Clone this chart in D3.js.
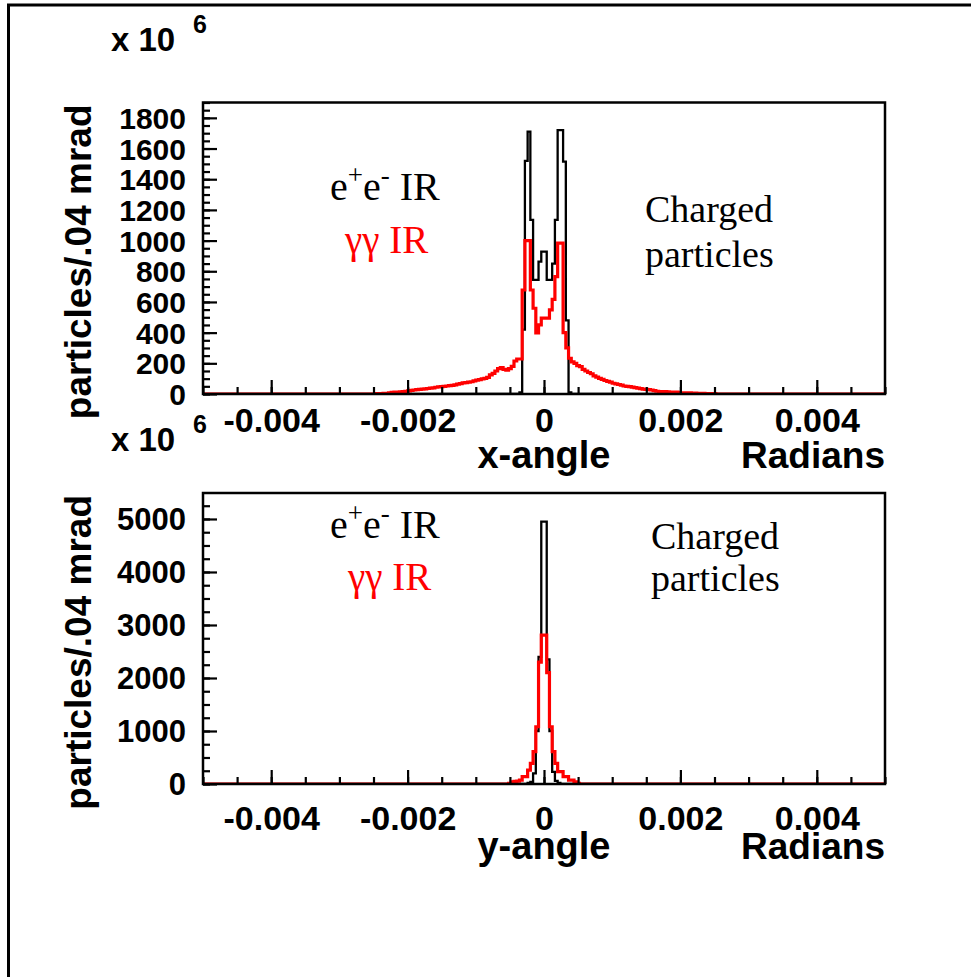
<!DOCTYPE html>
<html>
<head>
<meta charset="utf-8">
<script src="https://cdn.jsdelivr.net/npm/d3@7/dist/d3.min.js"></script>
<style>
  html, body { margin: 0; padding: 0; background: #fff; }
  svg { display: block; }
</style>
</head>
<body>
<div id="chart"></div>
<script>
// ---------------- DATA ----------------
// histogram binning: .04 mrad bins over [-0.005, 0.005] rad
const binWidth = 0.00004;
const xDomain = [-0.005, 0.005];

// x axis tick values and labels (shared by both panels)
const xTickValues = [-0.004, -0.002, 0, 0.002, 0.004];
const xTickLabels = ["-0.004", "-0.002", "0", "0.002", "0.004"];

// top panel (x-angle), values in units of 10^6 particles per bin
const topYTicks = [0, 200, 400, 600, 800, 1000, 1200, 1400, 1600, 1800];
// bins indexed by k, where bin k spans [k*binWidth, (k+1)*binWidth]
const topBlackStart = -9;
const topBlack = [10, 420, 1520, 1710, 1135, 744, 744, 863, 928, 928, 744, 744, 850, 1135, 1720, 1720, 1515, 480, 10];
const topRedStart = -62;
const topRed = [
  2, 3, 3, 4, 5, 8, 10, 12, 13, 14, 15, 17, 20, 24, 26, 28, 30, 32, 34, 36,
  38, 40, 44, 46, 48, 50, 52, 54, 56, 60, 64, 68, 72, 74, 78, 80, 86, 90, 94, 98,
  102, 108, 125, 135, 150, 165, 172, 160, 155, 165, 180,
  215, 228, 228, 678, 1000, 1000, 678, 559, 398, 450, 494, 494, 494, 548, 617, 765, 983, 983,
  400, 300, 233, 210, 200, 185, 178, 160, 150, 140, 132, 118, 110, 102, 95, 88, 82, 78,
  70, 66, 62, 58, 52, 50, 48, 45, 42, 38, 35, 32, 30, 28, 26, 22, 18, 16, 15, 15,
  14, 13, 12, 12, 10, 8, 8, 7, 7, 6, 6, 5, 5, 4, 3, 3, 2, 2
];

// bottom panel (y-angle)
const botYTicks = [0, 1000, 2000, 3000, 4000, 5000];
const botBlackStart = -6;
const botBlack = [20, 40, 200, 1000, 2400, 4950, 4950, 2350, 1000, 230, 60, 20];
const botRedStart = -13;
const botRed = [10, 40, 50, 55, 75, 138, 140, 260, 390, 610, 1080, 2300, 2810, 2810, 2100, 1080, 610, 390, 233, 233, 138, 138, 75, 75, 40, 13];

// ---------------- DRAW ----------------
const W = 971, H = 977;
const svg = d3.select("#chart").append("svg").attr("width", W).attr("height", H);
svg.append("rect").attr("width", W).attr("height", H).attr("fill", "#fff");

// outer page frame (top and left edges)
svg.append("path").attr("d", "M8.5,977V5H971").attr("fill", "none").attr("stroke", "#000").attr("stroke-width", 3);

const SANS = "'Liberation Sans', Arial, Helvetica, sans-serif";
const SERIF = "'Liberation Serif', 'Times New Roman', serif";

function panel(cfg) {
  const x = d3.scaleLinear().domain(xDomain).range([cfg.left, cfg.right]);
  const y = d3.scaleLinear().domain([0, cfg.yMax]).range([cfg.bottom, cfg.top]);
  const g = svg.append("g");

  const clipId = "clip" + cfg.id;
  svg.append("clipPath").attr("id", clipId).append("rect")
    .attr("x", cfg.left).attr("y", cfg.top - 2)
    .attr("width", cfg.right - cfg.left).attr("height", cfg.bottom - cfg.top + 3);

  // histogram helper
  const nBins = Math.round((xDomain[1] - xDomain[0]) / binWidth);
  function histPoints(start, vals) {
    const pts = [];
    for (let i = 0; i < nBins; i++) {
      const k = i - nBins / 2;
      const j = k - start;
      const v = (j >= 0 && j < vals.length) ? vals[j] : 0;
      pts.push([xDomain[0] + i * binWidth, v]);
    }
    pts.push([xDomain[1], pts[pts.length - 1][1]]);
    return pts;
  }
  const line = d3.line().x(d => x(d[0])).y(d => y(d[1])).curve(d3.curveStepAfter);

  const hg = g.append("g").attr("clip-path", `url(#${clipId})`);
  hg.append("path").attr("d", line(histPoints(cfg.blackStart, cfg.black)))
    .attr("fill", "none").attr("stroke", "#000").attr("stroke-width", 2.3);
  hg.append("path").attr("d", line(histPoints(cfg.redStart, cfg.red)))
    .attr("fill", "none").attr("stroke", "#ff0000").attr("stroke-width", 3.2);

  // x axis ticks (inward)
  const xMinor = d3.range(-10, 11).map(i => i * 0.0005);
  g.append("g").attr("transform", `translate(0,${cfg.bottom})`)
    .call(d3.axisBottom(x).tickValues(xMinor).tickSize(-7).tickFormat(""))
    .call(a => a.select(".domain").remove())
    .selectAll("line").attr("stroke-width", 2.2);
  const xa = g.append("g").attr("transform", `translate(0,${cfg.bottom})`)
    .call(d3.axisBottom(x).tickValues(xTickValues).tickSize(-14).tickFormat((d, i) => xTickLabels[i]))
    .call(a => a.select(".domain").remove());
  xa.selectAll("line").attr("stroke-width", 2.2);
  xa.selectAll("text").attr("y", cfg.xLabelBase - cfg.bottom).attr("dy", null)
    .attr("font-family", SANS).attr("font-weight", "bold").attr("font-size", 34).attr("fill", "#000");

  // y axis ticks (inward)
  const yMinor = d3.range(0, cfg.yMax + 1e-9, cfg.yMinorStep);
  g.append("g").attr("transform", `translate(${cfg.left},0)`)
    .call(d3.axisLeft(y).tickValues(yMinor).tickSize(-7).tickFormat(""))
    .call(a => a.select(".domain").remove())
    .selectAll("line").attr("stroke-width", 2.2);
  const ya = g.append("g").attr("transform", `translate(${cfg.left},0)`)
    .call(d3.axisLeft(y).tickValues(cfg.yTicks).tickSize(-14).tickFormat(d3.format("d")))
    .call(a => a.select(".domain").remove());
  ya.selectAll("line").attr("stroke-width", 2.2);
  ya.selectAll("text").attr("x", 186 - cfg.left).attr("dy", null).attr("y", 10.5)
    .attr("text-anchor", "end")
    .attr("font-family", SANS).attr("font-weight", "bold").attr("font-size", cfg.yLabelSize).attr("fill", "#000");

  // frame
  g.append("rect").attr("x", cfg.left).attr("y", cfg.top)
    .attr("width", cfg.right - cfg.left).attr("height", cfg.bottom - cfg.top)
    .attr("fill", "none").attr("stroke", "#000").attr("stroke-width", 2.5);

  // axis titles
  g.append("text").attr("x", (cfg.left + cfg.right) / 2).attr("y", cfg.titleBase)
    .attr("text-anchor", "middle").attr("font-family", SANS).attr("font-weight", "bold")
    .attr("font-size", 38).text(cfg.xTitle);
  g.append("text").attr("x", cfg.right).attr("y", cfg.titleBase)
    .attr("text-anchor", "end").attr("font-family", SANS).attr("font-weight", "bold")
    .attr("font-size", 37).text("Radians");
  g.append("text").attr("transform", `translate(91,${cfg.top + 2}) rotate(-90)`)
    .attr("text-anchor", "end").attr("font-family", SANS).attr("font-weight", "bold")
    .attr("font-size", 37).text("particles/.04 mrad");

  // exponent label
  const ex = g.append("text").attr("x", 111).attr("y", cfg.expBase)
    .attr("font-family", SANS).attr("font-weight", "bold").attr("font-size", 33);
  ex.append("tspan").text("x 10");
  ex.append("tspan").attr("x", 193).attr("dy", -18).attr("font-size", 25).text("6");

  // legend-like annotations
  const t1 = g.append("text").attr("x", 330).attr("y", cfg.eeBase)
    .attr("font-family", SERIF).attr("font-size", 40).attr("fill", "#000");
  t1.append("tspan").text("e");
  t1.append("tspan").attr("dy", -16).attr("font-size", 27).text("+");
  t1.append("tspan").attr("dy", 16).text("e");
  t1.append("tspan").attr("dy", -16).attr("font-size", 27).text("-");
  t1.append("tspan").attr("dy", 16).text(" IR");
  g.append("text").attr("x", cfg.ggX).attr("y", cfg.ggBase)
    .attr("font-family", SERIF).attr("font-size", 39).attr("fill", "#ff0000").text("γγ IR");
  g.append("text").attr("x", cfg.chX).attr("y", cfg.chBase1)
    .attr("font-family", SERIF).attr("font-size", 38).text("Charged");
  g.append("text").attr("x", cfg.chX).attr("y", cfg.chBase2)
    .attr("font-family", SERIF).attr("font-size", 38).text("particles");
}

panel({
  id: "top", left: 203, right: 885, top: 102.5, bottom: 394, yMax: 1900,
  yTicks: topYTicks, yMinorStep: 50, yLabelSize: 30,
  black: topBlack, blackStart: topBlackStart, red: topRed, redStart: topRedStart,
  xLabelBase: 432, titleBase: 468, xTitle: "x-angle", expBase: 51,
  eeBase: 200, ggX: 345, ggBase: 253, chX: 645, chBase1: 222, chBase2: 267
});
panel({
  id: "bot", left: 203, right: 885, top: 493, bottom: 784, yMax: 5490,
  yTicks: botYTicks, yMinorStep: 250, yLabelSize: 31,
  black: botBlack, blackStart: botBlackStart, red: botRed, redStart: botRedStart,
  xLabelBase: 830, titleBase: 859, xTitle: "y-angle", expBase: 451,
  eeBase: 538, ggX: 348, ggBase: 590, chX: 651, chBase1: 549, chBase2: 591
});
</script>
</body>
</html>
